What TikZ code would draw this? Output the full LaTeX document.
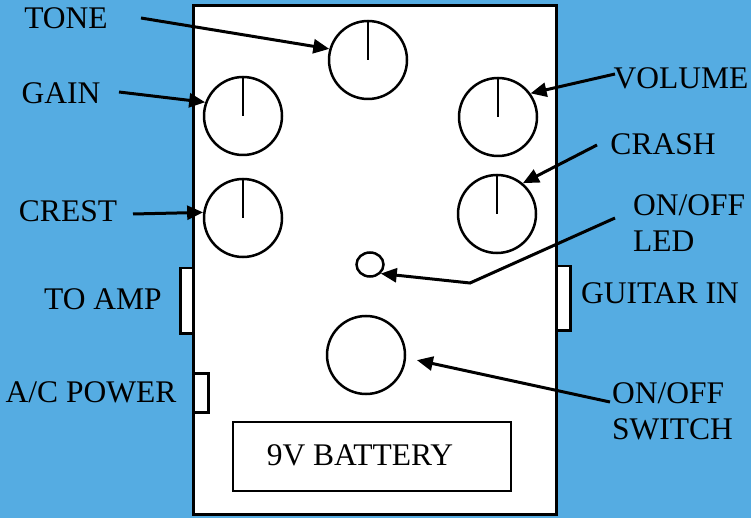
\documentclass[tikz,border=0pt]{standalone}
\usepackage{fontspec}
\setmainfont{Liberation Serif}
\usetikzlibrary{arrows.meta,shapes.geometric}
\definecolor{bg}{RGB}{85,172,226}
\begin{document}
\begin{tikzpicture}[x=1pt,y=-1pt,
  knob/.style={circle,draw,line width=2.5pt,minimum size=78pt,inner sep=0pt},
  lbl/.style={font=\fontsize{31.5}{36.5}\selectfont,inner sep=0pt,text=black},
  arr/.style={line width=3pt,-{Triangle[length=16pt,width=14pt]}},
  jack/.style={draw,fill=white,line width=2.5pt,inner sep=0pt,anchor=north west},
  knobline/.style={line width=2.5pt}]
\useasboundingbox (0,0) rectangle (751,518);
\fill[bg] (0,0) rectangle (751,518);
% body
\node[draw,fill=white,line width=3pt,inner sep=0pt,minimum width=363pt,minimum height=509pt,anchor=north west] (body) at (192,4) {};
% jacks
\node[jack,minimum width=13pt,minimum height=65pt] (toamp) at (179,267) {};
\node[jack,minimum width=14pt,minimum height=64pt] (guitar) at (555,265) {};
\node[jack,minimum width=15pt,minimum height=39pt] (acpow) at (192,372) {};
% knobs
\node[knob] (tone) at (368,60) {};
\node[knob] (gain) at (243,116) {};
\node[knob] (volume) at (498,117) {};
\node[knob] (crest) at (243,218) {};
\node[knob] (crash) at (497,214) {};
\foreach \k in {tone,gain,volume,crest,crash} \draw[knobline] (\k.center) -- (\k.north);
% led and switch
\node[ellipse,draw,line width=2.5pt,minimum width=27pt,minimum height=24pt,inner sep=0pt] (led) at (370,264.5) {};
\node[knob] (switch) at (366,355) {};
% battery
\node[draw,line width=2.5pt,fill=white,minimum width=278pt,minimum height=69pt,inner sep=0pt] (battery) at (372,456.5) {};
\node[lbl,anchor=base] (battxt) at (360,465) {9V BATTERY};
% labels
\node[lbl,anchor=base] (ltone) at (66,28.5) {TONE};
\node[lbl,anchor=base] (lgain) at (61,103.5) {GAIN};
\node[lbl,anchor=base] (lcrest) at (68,221.5) {CREST};
\node[lbl,anchor=base] (ltoamp) at (103,309.5) {TO AMP};
\node[lbl,anchor=base] (lacpow) at (91,402.5) {A/C POWER};
\node[lbl,anchor=base] (lvolume) at (681,88.5) {VOLUME};
\node[lbl,anchor=base] (lcrash) at (663,155) {CRASH};
\node[lbl,anchor=base] (lguitar) at (660,303.5) {GUITAR IN};
\node[lbl,anchor=north west,align=left] (lled) at (633,194) {ON/OFF\\LED};
\node[lbl,anchor=north west,align=left] (lswitch) at (612,382) {ON/OFF\\SWITCH};
% arrow start points
\coordinate (stone) at (141,18);
\coordinate (sgain) at (119,92);
\coordinate (screst) at (133,214);
\coordinate (svolume) at (615,74);
\coordinate (scrash) at (597,145);
\coordinate (sled) at (615,218);
\coordinate (bled) at (470,283);
\coordinate (sswitch) at (610,402);
% arrows
\draw[arr] (stone) -- (tone.164);
\draw[arr] (sgain) -- (gain.160);
\draw[arr] (screst) -- (crest.172);
\draw[arr] (svolume) -- (volume.36);
\draw[arr] (scrash) -- (crash.50);
\draw[arr] (sled) -- (bled) -- (led.-40);
\draw[arr,shorten >=11pt] (sswitch) -- (switch.-4);
\end{tikzpicture}
\end{document}
